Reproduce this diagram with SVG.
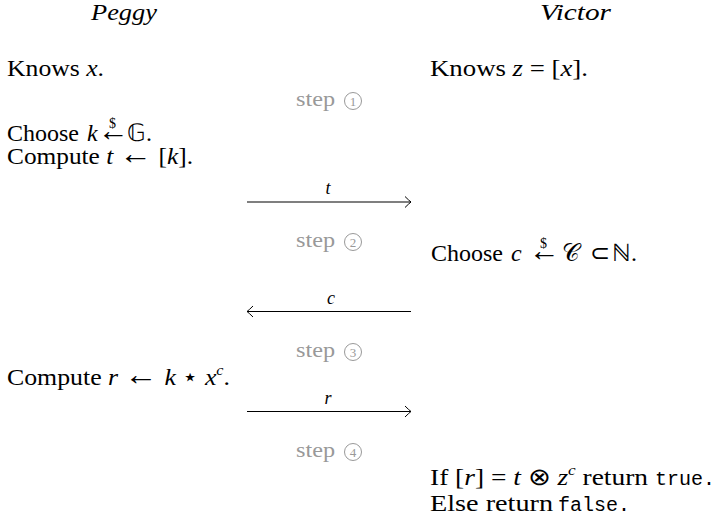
<svg xmlns="http://www.w3.org/2000/svg" width="718" height="524" viewBox="0 0 718 524">
<defs>
<style>
.t{font-family:"Liberation Serif","Times New Roman",serif;font-size:24px;fill:#000}
.i{font-style:italic}
.ar{font-family:"Liberation Serif",serif;font-size:31px;font-style:normal}
.m{font-family:"Liberation Mono","Courier New",monospace;font-size:20px;fill:#000}
.sup{font-size:15px}
.dol{font-size:14px}
.lab{font-family:"Liberation Serif",serif;font-style:italic;font-size:18px;fill:#000;text-anchor:middle}
.step{font-family:"Liberation Serif",serif;font-size:21px;fill:#999}
.num{font-family:"Liberation Serif",serif;font-size:13px;fill:#999;text-anchor:middle}
.circ{fill:none;stroke:#999;stroke-width:1}
.msg{stroke:#000;stroke-width:1.1;fill:none}
</style>
<marker id="ah" viewBox="-8 -7 10 14" refX="0" refY="0" markerWidth="10" markerHeight="14" markerUnits="userSpaceOnUse" orient="auto">
<path d="M-6,-5.5 Q-2,-1.5 0,0 Q-2,1.5 -6,5.5" fill="none" stroke="#000" stroke-width="1"/>
</marker>
</defs>
<g id="peggy-title"><text class="t i" x="91" y="20" textLength="66" lengthAdjust="spacingAndGlyphs">Peggy</text></g>
<g id="victor-title"><text class="t i" x="540" y="20" textLength="71" lengthAdjust="spacingAndGlyphs">Victor</text></g>
<g id="peggy-knows"><text class="t" x="7" y="76" textLength="97" lengthAdjust="spacingAndGlyphs">Knows <tspan class="i">x</tspan>.</text></g>
<g id="victor-knows"><text class="t" x="430" y="76" textLength="158" lengthAdjust="spacingAndGlyphs">Knows <tspan class="i">z</tspan> = [<tspan class="i">x</tspan>].</text></g>
<g id="peggy-choose"><text class="t" y="141"><tspan x="7">Choose</tspan><tspan class="i" x="87">k</tspan><tspan class="ar" x="98">←</tspan><tspan class="dol" x="109" dy="-13">$</tspan><tspan x="127" dy="13">𝔾.</tspan></text></g>
<g id="peggy-compute-t"><text class="t" x="7" y="164" textLength="186" lengthAdjust="spacingAndGlyphs">Compute <tspan class="i">t</tspan> <tspan class="ar">←</tspan> [<tspan class="i">k</tspan>].</text></g>
<g id="victor-choose"><text class="t" y="261"><tspan x="431">Choose</tspan><tspan class="i" x="511">c</tspan><tspan class="ar" x="529">←</tspan><tspan class="dol" x="540" dy="-13">$</tspan><tspan x="562" dy="13">𝒞</tspan><tspan x="590">⊂</tspan><tspan x="612">ℕ.</tspan></text></g>
<g id="peggy-compute-r"><text class="t" x="7" y="385" textLength="223" lengthAdjust="spacingAndGlyphs">Compute <tspan class="i">r</tspan> <tspan class="ar">←</tspan> <tspan class="i">k</tspan> ⋆ <tspan class="i">x</tspan><tspan class="i sup" dy="-10">c</tspan><tspan dy="10">.</tspan></text></g>
<g id="victor-verify">
<text class="t" x="430" y="485" textLength="218" lengthAdjust="spacingAndGlyphs">If [<tspan class="i">r</tspan>] = <tspan class="i">t</tspan> ⊗ <tspan class="i">z</tspan><tspan class="i sup" dy="-10">c</tspan><tspan dy="10"> return</tspan></text>
<text class="m" x="655" y="485" textLength="60" lengthAdjust="spacingAndGlyphs">true.</text>
<text class="t" x="430" y="511" textLength="123" lengthAdjust="spacingAndGlyphs">Else return</text>
<text class="m" x="558" y="511" textLength="72" lengthAdjust="spacingAndGlyphs">false.</text>
</g>
<g id="step1"><text class="step" x="296" y="106" textLength="39" lengthAdjust="spacingAndGlyphs">step</text><circle class="circ" cx="353" cy="101" r="8.5"/><text class="num" x="353" y="105.5">1</text></g>
<g id="step2"><text class="step" x="296" y="247" textLength="39" lengthAdjust="spacingAndGlyphs">step</text><circle class="circ" cx="353" cy="242" r="8.5"/><text class="num" x="353" y="246.5">2</text></g>
<g id="step3"><text class="step" x="296" y="357" textLength="39" lengthAdjust="spacingAndGlyphs">step</text><circle class="circ" cx="353" cy="352" r="8.5"/><text class="num" x="353" y="356.5">3</text></g>
<g id="step4"><text class="step" x="296" y="457" textLength="39" lengthAdjust="spacingAndGlyphs">step</text><circle class="circ" cx="353" cy="452" r="8.5"/><text class="num" x="353" y="456.5">4</text></g>
<g id="connectors">
<line class="msg" x1="247" y1="202" x2="411" y2="202" marker-end="url(#ah)"/>
<text class="lab" x="328" y="194">t</text>
<line class="msg" x1="411" y1="311.5" x2="247" y2="311.5" marker-end="url(#ah)"/>
<text class="lab" x="331" y="304">c</text>
<line class="msg" x1="247" y1="411.5" x2="411" y2="411.5" marker-end="url(#ah)"/>
<text class="lab" x="328" y="404">r</text>
</g>
</svg>
